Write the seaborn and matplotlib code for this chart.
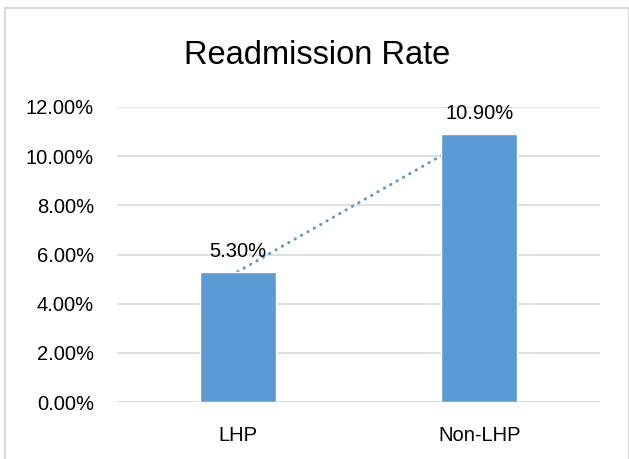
import matplotlib
matplotlib.use("Agg")
import matplotlib.pyplot as plt
import seaborn as sns
import numpy as np
from matplotlib.lines import Line2D

categories = ["LHP", "Non-LHP"]
values = [0.053, 0.109]
value_labels = ["5.30%", "10.90%"]
yticks = [0.0, 0.02, 0.04, 0.06, 0.08, 0.10, 0.12]
ytick_labels = ["0.00%", "2.00%", "4.00%", "6.00%", "8.00%", "10.00%", "12.00%"]
title = "Readmission Rate"

sns.set_style("white")
plt.rcParams['font.family'] = ['Liberation Sans', 'DejaVu Sans']

BLUE = "#5B9BD5"
GRID = "#D9D9D9"

fig = plt.figure(figsize=(6.29, 4.59), dpi=100)
ax = fig.add_axes([117/629, 1-402/459, (600-117)/629, (402-107)/459])

sns.barplot(x=categories, y=values, color=BLUE, saturation=1, width=0.315, ax=ax, zorder=3)
ax.plot(range(len(values)), values, linestyle=(0, (0.1, 2.3)), color=BLUE, lw=2.2,
        dash_capstyle='round', zorder=2)

ax.set_xlim(-0.5, 1.5)
ax.set_ylim(0, 0.12)
ax.set_yticks(yticks)
ax.set_yticklabels(ytick_labels, fontsize=14.5, color="#000000")
ax.set_xticklabels(categories, fontsize=14.5, color="#000000")
ax.tick_params(axis='y', length=0, pad=16.5)
ax.tick_params(axis='x', length=0, pad=17)
ax.set_xlabel("")
ax.set_ylabel("")
for s in ax.spines.values():
    s.set_visible(False)
ax.grid(axis='y', color=GRID, lw=1.2, zorder=0)
ax.set_axisbelow(True)

for i, (v, lab) in enumerate(zip(values, value_labels)):
    ax.annotate(lab, (i, v), xytext=(0, 8), textcoords='offset points',
                ha='center', va='bottom', fontsize=14.5, color="#000000")

fig.text(317.5/629, 1 - 64/459, title, ha='center', va='baseline',
         fontsize=23.5, color="#000000")

fig.add_artist(Line2D([5/629, 5/629], [0, 1 - 8/459], transform=fig.transFigure, color=GRID, lw=1.5))
fig.add_artist(Line2D([5/629, 628/629], [1 - 8/459, 1 - 8/459], transform=fig.transFigure, color=GRID, lw=1.5))
fig.add_artist(Line2D([628/629, 628/629], [0, 1 - 8/459], transform=fig.transFigure, color=GRID, lw=1.0))

fig.savefig("out.png", dpi=100)
